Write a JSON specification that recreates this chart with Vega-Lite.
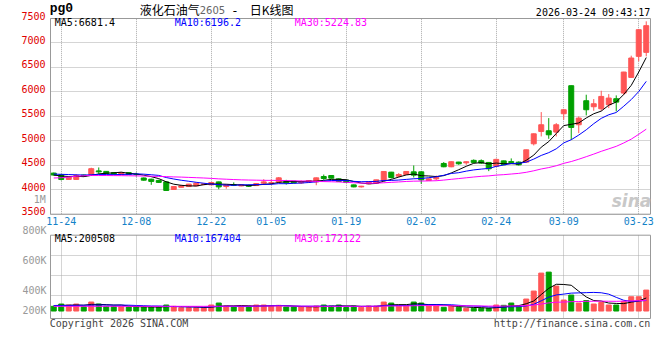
{
"$schema": "https://vega.github.io/schema/vega-lite/v6.json",
"width": 600, "height": 300,
"autosize": "none",
"padding": {"left": 50, "top": 18, "right": 10, "bottom": 42},
"background": "#ffffff",
"config": {"view": {"stroke": null}, "text": {"font": "DejaVu Sans Mono", "fontSize": 10}, "axis": {"labelFont": "DejaVu Sans Mono", "labelFontSize": 10}},
"datasets": {"k": [
{"d":"11-21","o":4330,"h":4340,"l":4280,"c":4290,"v":117000,"m5":4290,"m10":4310,"m30":4230,"vm5":125000,"vm10":125000,"vm30":117000},
{"d":"11-24","o":4295,"h":4305,"l":4180,"c":4200,"v":140000,"m5":4270,"m10":4305,"m30":4235,"vm5":127000,"vm10":125000,"vm30":117000},
{"d":"11-25","o":4200,"h":4260,"l":4195,"c":4250,"v":130000,"m5":4260,"m10":4300,"m30":4250,"vm5":128000,"vm10":126000,"vm30":117000},
{"d":"11-26","o":4200,"h":4310,"l":4195,"c":4280,"v":140000,"m5":4264,"m10":4295,"m30":4265,"vm5":130000,"vm10":127000,"vm30":117000},
{"d":"11-27","o":4290,"h":4300,"l":4255,"c":4265,"v":113000,"m5":4257,"m10":4290,"m30":4275,"vm5":128000,"vm10":128000,"vm30":117000},
{"d":"11-28","o":4300,"h":4440,"l":4295,"c":4420,"v":160000,"m5":4283,"m10":4295,"m30":4280,"vm5":136600,"vm10":129000,"vm30":117000},
{"d":"12-01","o":4375,"h":4445,"l":4315,"c":4355,"v":140000,"m5":4314,"m10":4300,"m30":4280,"vm5":136600,"vm10":130000,"vm30":117000},
{"d":"12-02","o":4365,"h":4370,"l":4310,"c":4320,"v":117000,"m5":4328,"m10":4300,"m30":4280,"vm5":134000,"vm10":130000,"vm30":117000},
{"d":"12-03","o":4340,"h":4350,"l":4300,"c":4310,"v":117000,"m5":4334,"m10":4298,"m30":4278,"vm5":129400,"vm10":129000,"vm30":117000},
{"d":"12-04","o":4300,"h":4345,"l":4295,"c":4340,"v":117000,"m5":4349,"m10":4303,"m30":4277,"vm5":130200,"vm10":129000,"vm30":117000},
{"d":"12-05","o":4340,"h":4345,"l":4295,"c":4300,"v":110000,"m5":4325,"m10":4304,"m30":4275,"vm5":120200,"vm10":128400,"vm30":117000},
{"d":"12-08","o":4305,"h":4340,"l":4260,"c":4300,"v":110000,"m5":4314,"m10":4314,"m30":4273,"vm5":114200,"vm10":125400,"vm30":117000},
{"d":"12-09","o":4230,"h":4240,"l":4175,"c":4185,"v":110000,"m5":4287,"m10":4308,"m30":4270,"vm5":112800,"vm10":123400,"vm30":117000},
{"d":"12-10","o":4205,"h":4215,"l":4090,"c":4160,"v":110000,"m5":4257,"m10":4296,"m30":4265,"vm5":111400,"vm10":120400,"vm30":117000},
{"d":"12-11","o":4180,"h":4195,"l":4130,"c":4140,"v":110000,"m5":4217,"m10":4283,"m30":4262,"vm5":110000,"vm10":120100,"vm30":117000},
{"d":"12-12","o":4150,"h":4160,"l":3970,"c":3975,"v":130000,"m5":4152,"m10":4239,"m30":4258,"vm5":114000,"vm10":117100,"vm30":117000},
{"d":"12-15","o":3995,"h":4060,"l":3990,"c":4055,"v":117000,"m5":4103,"m10":4209,"m30":4252,"vm5":115400,"vm10":114800,"vm30":117000},
{"d":"12-16","o":4040,"h":4090,"l":4035,"c":4070,"v":103000,"m5":4080,"m10":4184,"m30":4248,"vm5":114000,"vm10":113400,"vm30":117000},
{"d":"12-17","o":4055,"h":4110,"l":4050,"c":4105,"v":103000,"m5":4069,"m10":4163,"m30":4242,"vm5":112600,"vm10":112000,"vm30":117000},
{"d":"12-18","o":4070,"h":4130,"l":4065,"c":4125,"v":103000,"m5":4066,"m10":4142,"m30":4236,"vm5":111200,"vm10":110600,"vm30":117000},
{"d":"12-19","o":4095,"h":4120,"l":4085,"c":4110,"v":103000,"m5":4093,"m10":4123,"m30":4230,"vm5":105800,"vm10":109900,"vm30":117000},
{"d":"12-22","o":4090,"h":4145,"l":4085,"c":4137,"v":130000,"m5":4109,"m10":4106,"m30":4222,"vm5":108400,"vm10":111900,"vm30":118000},
{"d":"12-23","o":4150,"h":4155,"l":4000,"c":4048,"v":150000,"m5":4105,"m10":4093,"m30":4212,"vm5":117800,"vm10":115900,"vm30":118000},
{"d":"12-24","o":4055,"h":4095,"l":4010,"c":4089,"v":120000,"m5":4102,"m10":4085,"m30":4205,"vm5":121200,"vm10":116900,"vm30":118000},
{"d":"12-25","o":4095,"h":4140,"l":4065,"c":4080,"v":110000,"m5":4093,"m10":4079,"m30":4198,"vm5":122600,"vm10":116900,"vm30":119000},
{"d":"12-26","o":4068,"h":4095,"l":4060,"c":4089,"v":117000,"m5":4089,"m10":4091,"m30":4192,"vm5":125400,"vm10":115600,"vm30":119000},
{"d":"12-29","o":4082,"h":4100,"l":4050,"c":4060,"v":117000,"m5":4073,"m10":4091,"m30":4188,"vm5":122800,"vm10":115600,"vm30":119000},
{"d":"12-30","o":4075,"h":4120,"l":4070,"c":4116,"v":130000,"m5":4087,"m10":4096,"m30":4185,"vm5":118800,"vm10":118300,"vm30":119000},
{"d":"12-31","o":4123,"h":4205,"l":4089,"c":4150,"v":130000,"m5":4099,"m10":4100,"m30":4182,"vm5":120800,"vm10":121000,"vm30":120000},
{"d":"01-05","o":4130,"h":4200,"l":4090,"c":4135,"v":120000,"m5":4110,"m10":4101,"m30":4181,"vm5":122800,"vm10":122700,"vm30":120000},
{"d":"01-06","o":4150,"h":4250,"l":4145,"c":4233,"v":127000,"m5":4139,"m10":4114,"m30":4180,"vm5":124800,"vm10":125100,"vm30":121100},
{"d":"01-07","o":4158,"h":4192,"l":4096,"c":4130,"v":110000,"m5":4153,"m10":4113,"m30":4178,"vm5":123400,"vm10":123100,"vm30":120100},
{"d":"01-08","o":4165,"h":4170,"l":4125,"c":4130,"v":110000,"m5":4156,"m10":4121,"m30":4174,"vm5":119400,"vm10":119100,"vm30":119500},
{"d":"01-09","o":4130,"h":4180,"l":4110,"c":4150,"v":110000,"m5":4156,"m10":4127,"m30":4169,"vm5":115400,"vm10":118100,"vm30":118500},
{"d":"01-12","o":4150,"h":4185,"l":4140,"c":4178,"v":110000,"m5":4164,"m10":4137,"m30":4167,"vm5":113400,"vm10":118100,"vm30":118400},
{"d":"01-13","o":4150,"h":4240,"l":4082,"c":4233,"v":120000,"m5":4164,"m10":4152,"m30":4160,"vm5":112000,"vm10":118400,"vm30":117000},
{"d":"01-14","o":4260,"h":4300,"l":4192,"c":4219,"v":130000,"m5":4182,"m10":4167,"m30":4156,"vm5":116000,"vm10":119700,"vm30":116700},
{"d":"01-15","o":4281,"h":4290,"l":4220,"c":4226,"v":120000,"m5":4201,"m10":4178,"m30":4153,"vm5":118000,"vm10":118700,"vm30":116800},
{"d":"01-16","o":4212,"h":4220,"l":4150,"c":4158,"v":130000,"m5":4203,"m10":4179,"m30":4148,"vm5":122000,"vm10":118700,"vm30":117200},
{"d":"01-19","o":4185,"h":4195,"l":4130,"c":4137,"v":105000,"m5":4195,"m10":4179,"m30":4141,"vm5":121000,"vm10":117200,"vm30":116800},
{"d":"01-20","o":4089,"h":4095,"l":4040,"c":4048,"v":120000,"m5":4158,"m10":4161,"m30":4132,"vm5":121000,"vm10":116500,"vm30":117200},
{"d":"01-21","o":4048,"h":4070,"l":4035,"c":4062,"v":107000,"m5":4126,"m10":4154,"m30":4124,"vm5":116400,"vm10":116200,"vm30":117100},
{"d":"01-22","o":4110,"h":4155,"l":4105,"c":4150,"v":120000,"m5":4111,"m10":4156,"m30":4123,"vm5":116400,"vm10":117200,"vm30":117400},
{"d":"01-23","o":4123,"h":4195,"l":4120,"c":4192,"v":120000,"m5":4118,"m10":4160,"m30":4124,"vm5":114400,"vm10":118200,"vm30":117700},
{"d":"01-26","o":4178,"h":4370,"l":4175,"c":4363,"v":160000,"m5":4163,"m10":4179,"m30":4132,"vm5":125400,"vm10":123200,"vm30":119400},
{"d":"01-27","o":4349,"h":4355,"l":4220,"c":4240,"v":150000,"m5":4201,"m10":4180,"m30":4141,"vm5":131400,"vm10":126200,"vm30":120100},
{"d":"01-28","o":4267,"h":4330,"l":4247,"c":4301,"v":120000,"m5":4249,"m10":4188,"m30":4149,"vm5":134000,"vm10":125200,"vm30":120200},
{"d":"01-29","o":4301,"h":4370,"l":4295,"c":4363,"v":120000,"m5":4292,"m10":4201,"m30":4159,"vm5":134000,"vm10":125200,"vm30":120700},
{"d":"01-30","o":4356,"h":4486,"l":4240,"c":4288,"v":160000,"m5":4311,"m10":4214,"m30":4165,"vm5":142000,"vm10":128200,"vm30":122600},
{"d":"02-02","o":4356,"h":4365,"l":4110,"c":4192,"v":150000,"m5":4277,"m10":4220,"m30":4167,"vm5":140000,"vm10":132700,"vm30":124200},
{"d":"02-03","o":4178,"h":4220,"l":4170,"c":4212,"v":120000,"m5":4271,"m10":4236,"m30":4170,"vm5":134000,"vm10":132700,"vm30":124800},
{"d":"02-04","o":4212,"h":4280,"l":4178,"c":4240,"v":120000,"m5":4259,"m10":4254,"m30":4174,"vm5":134000,"vm10":134000,"vm30":124400},
{"d":"02-05","o":4527,"h":4555,"l":4450,"c":4459,"v":107000,"m5":4278,"m10":4285,"m30":4187,"vm5":131400,"vm10":132700,"vm30":123000},
{"d":"02-06","o":4459,"h":4570,"l":4450,"c":4562,"v":120000,"m5":4333,"m10":4322,"m30":4203,"vm5":123400,"vm10":132700,"vm30":123000},
{"d":"02-09","o":4555,"h":4560,"l":4500,"c":4520,"v":107000,"m5":4399,"m10":4338,"m30":4218,"vm5":114800,"vm10":127400,"vm30":122900},
{"d":"02-10","o":4540,"h":4570,"l":4500,"c":4562,"v":97000,"m5":4469,"m10":4370,"m30":4234,"vm5":110200,"vm10":122100,"vm30":122200},
{"d":"02-11","o":4590,"h":4610,"l":4540,"c":4548,"v":97000,"m5":4530,"m10":4395,"m30":4250,"vm5":105600,"vm10":119800,"vm30":121600},
{"d":"02-12","o":4583,"h":4610,"l":4515,"c":4535,"v":97000,"m5":4545,"m10":4412,"m30":4264,"vm5":103600,"vm10":117500,"vm30":120500},
{"d":"02-13","o":4548,"h":4555,"l":4370,"c":4418,"v":97000,"m5":4517,"m10":4425,"m30":4273,"vm5":99000,"vm10":111200,"vm30":119400},
{"d":"02-24","o":4470,"h":4625,"l":4460,"c":4610,"v":130000,"m5":4535,"m10":4467,"m30":4289,"vm5":103600,"vm10":109200,"vm30":119700},
{"d":"02-25","o":4580,"h":4585,"l":4495,"c":4500,"v":127000,"m5":4522,"m10":4495,"m30":4298,"vm5":109600,"vm10":109900,"vm30":119700},
{"d":"02-26","o":4565,"h":4630,"l":4530,"c":4545,"v":150000,"m5":4522,"m10":4526,"m30":4311,"vm5":120200,"vm10":112900,"vm30":121000},
{"d":"02-27","o":4554,"h":4570,"l":4485,"c":4499,"v":117000,"m5":4514,"m10":4530,"m30":4324,"vm5":124200,"vm10":113900,"vm30":121300},
{"d":"03-02","o":4554,"h":4810,"l":4540,"c":4806,"v":190000,"m5":4592,"m10":4554,"m30":4346,"vm5":142800,"vm10":120900,"vm30":123900},
{"d":"03-03","o":4929,"h":5140,"l":4895,"c":5133,"v":270000,"m5":4697,"m10":4616,"m30":4377,"vm5":170800,"vm10":137200,"vm30":129300},
{"d":"03-04","o":5181,"h":5577,"l":5079,"c":5318,"v":450000,"m5":4860,"m10":4691,"m30":4414,"vm5":235400,"vm10":172500,"vm30":140300},
{"d":"03-05","o":5195,"h":5454,"l":5031,"c":5113,"v":460000,"m5":4974,"m10":4748,"m30":4443,"vm5":297400,"vm10":208800,"vm30":151300},
{"d":"03-06","o":5168,"h":5352,"l":5079,"c":5318,"v":320000,"m5":5138,"m10":4826,"m30":4480,"vm5":338000,"vm10":231100,"vm30":157900},
{"d":"03-09","o":5543,"h":5630,"l":5420,"c":5625,"v":180000,"m5":5301,"m10":4947,"m30":4529,"vm5":336000,"vm10":239400,"vm30":159600},
{"d":"03-10","o":6116,"h":6120,"l":5011,"c":5263,"v":230000,"m5":5327,"m10":5012,"m30":4566,"vm5":328000,"vm10":249400,"vm30":163800},
{"d":"03-11","o":5318,"h":5488,"l":5147,"c":5454,"v":150000,"m5":5355,"m10":5107,"m30":4613,"vm5":268000,"vm10":251700,"vm30":164800},
{"d":"03-12","o":5809,"h":5932,"l":5509,"c":5625,"v":175000,"m5":5457,"m10":5215,"m30":4665,"vm5":211000,"vm10":254200,"vm30":167000},
{"d":"03-13","o":5686,"h":5843,"l":5604,"c":5747,"v":140000,"m5":5543,"m10":5340,"m30":4718,"vm5":175000,"vm10":256500,"vm30":167700},
{"d":"03-16","o":5645,"h":6013,"l":5604,"c":5897,"v":155000,"m5":5597,"m10":5449,"m30":4775,"vm5":170000,"vm10":253000,"vm30":168900},
{"d":"03-17","o":5727,"h":5945,"l":5659,"c":5863,"v":130000,"m5":5717,"m10":5522,"m30":4825,"vm5":150000,"vm10":239000,"vm30":167900},
{"d":"03-18","o":5850,"h":5918,"l":5591,"c":5781,"v":130000,"m5":5783,"m10":5569,"m30":4877,"vm5":146000,"vm10":207000,"vm30":167200},
{"d":"03-19","o":5966,"h":6400,"l":5925,"c":6395,"v":167000,"m5":5937,"m10":5697,"m30":4946,"vm5":144400,"vm10":177700,"vm30":168800},
{"d":"03-20","o":6286,"h":6730,"l":6280,"c":6682,"v":213000,"m5":6124,"m10":5833,"m30":5024,"vm5":159000,"vm10":167000,"vm30":171900},
{"d":"03-23","o":6716,"h":7265,"l":6614,"c":7261,"v":213000,"m5":6396,"m10":5997,"m30":5123,"vm5":170600,"vm10":170300,"vm30":173600},
{"d":"03-24","o":6798,"h":7432,"l":6716,"c":7343,"v":280000,"m5":6692,"m10":6205,"m30":5228,"vm5":200600,"vm10":175300,"vm30":178000}
]},
"data": {"name": "k"},
"layer": [
{"layer": [
 {"mark": {"type": "rule", "strokeWidth": 1},
  "encoding": {
   "x": {"field": "d", "type": "ordinal",
     "scale": {"domain": ["11-21","11-24","11-25","11-26","11-27","11-28","12-01","12-02","12-03","12-04","12-05","12-08","12-09","12-10","12-11","12-12","12-15","12-16","12-17","12-18","12-19","12-22","12-23","12-24","12-25","12-26","12-29","12-30","12-31","01-05","01-06","01-07","01-08","01-09","01-12","01-13","01-14","01-15","01-16","01-19","01-20","01-21","01-22","01-23","01-26","01-27","01-28","01-29","01-30","02-02","02-03","02-04","02-05","02-06","02-09","02-10","02-11","02-12","02-13","02-24","02-25","02-26","02-27","03-02","03-03","03-04","03-05","03-06","03-09","03-10","03-11","03-12","03-13","03-16","03-17","03-18","03-19","03-20","03-23","03-24"], "paddingInner": 0.3333, "paddingOuter": 0.1667},
     "axis": {"orient": "bottom", "offset": -104.3, "values": ["11-24","12-08","12-22","01-05","01-19","02-02","02-24","03-09","03-23"], "labelColor": "#1382C8", "labelAngle": 0, "labelPadding": 3, "ticks": false, "grid": false, "domainColor": "#999999", "title": null, "labelOverlap": false, "bandPosition": 0.5}},
   "y": {"field": "h", "type": "quantitative", "scale": {"domain": [3500, 7500], "range": [195.7, 0], "zero": false, "nice": false},
     "axis": {"orient": "left", "values": [3500,4000,4500,5000,5500,6000,6500,7000,7500], "format": "d", "labelColor": "#E00000", "labelPadding": 5, "labelOffset": -2, "labelFlush": false, "labelOverlap": false, "ticks": false, "grid": true, "gridColor": "#AAAAAA", "gridDash": [1, 1], "domainColor": "#999999", "title": null}},
   "y2": {"field": "l"},
   "color": {"condition": {"test": "datum.c >= datum.o", "value": "#FF5555"}, "value": "#00A000"}
  }},
 {"mark": {"type": "bar", "strokeWidth": 1},
  "encoding": {
   "x": {"field": "d", "type": "ordinal", "axis": {"orient": "top", "values": ["11-24","12-08","12-22","01-05","01-19","02-02","02-24","03-09","03-23"], "labels": false, "ticks": false, "grid": true, "gridColor": "#AAAAAA", "gridDash": [1, 1], "domainColor": "#999999", "title": null, "bandPosition": 0.5}},
   "y": {"field": "o", "type": "quantitative", "axis": {"orient": "right", "labels": false, "ticks": false, "grid": false, "domainColor": "#999999", "title": null}},
   "y2": {"field": "c"},
   "color": {"condition": {"test": "datum.c >= datum.o", "value": "#FF5555"}, "value": "#00A000"},
   "stroke": {"condition": {"test": "datum.c >= datum.o", "value": "#FF5555"}, "value": "#00A000"}
  }},
 {"mark": {"type": "line", "color": "#000000", "strokeWidth": 1},
  "encoding": {"x": {"field": "d", "type": "ordinal", "axis": null}, "y": {"field": "m5", "type": "quantitative", "axis": null}, "order": {"value": null}}},
 {"mark": {"type": "line", "color": "#0000FF", "strokeWidth": 1},
  "encoding": {"x": {"field": "d", "type": "ordinal", "axis": null}, "y": {"field": "m10", "type": "quantitative", "axis": null}, "order": {"value": null}}},
 {"mark": {"type": "line", "color": "#FF00FF", "strokeWidth": 1},
  "encoding": {"x": {"field": "d", "type": "ordinal", "axis": null}, "y": {"field": "m30", "type": "quantitative", "axis": null}, "order": {"value": null}}},
 {"data": {"values": [{"d": "11-21", "y": 7630, "t": "pg0"}]},
  "mark": {"type": "text", "align": "left", "baseline": "alphabetic", "dx": -4, "font": "Liberation Mono", "fontSize": 13, "fontWeight": "bold", "color": "#000000"},
  "encoding": {"x": {"field": "d", "type": "ordinal", "axis": null}, "y": {"field": "y", "type": "quantitative", "axis": null}, "text": {"field": "t"}}},
 {"data": {"values": [{"d": "12-09", "y": 7652, "t": "液化石油气"}]},
  "mark": {"type": "text", "align": "left", "baseline": "middle", "dx": -4, "font": "Noto Sans CJK SC", "fontSize": 12, "color": "#000000"},
  "encoding": {"x": {"field": "d", "type": "ordinal", "axis": null}, "y": {"field": "y", "type": "quantitative", "axis": null}, "text": {"field": "t"}}},
 {"data": {"values": [{"d": "12-19", "y": 7648, "t": "2605"}]},
  "mark": {"type": "text", "align": "left", "baseline": "middle", "dx": -4, "font": "DejaVu Sans", "fontSize": 10, "color": "#666666"},
  "encoding": {"x": {"field": "d", "type": "ordinal", "axis": null}, "y": {"field": "y", "type": "quantitative", "axis": null}, "text": {"field": "t"}}},
 {"data": {"values": [{"d": "12-25", "y": 7652, "t": "-"}]},
  "mark": {"type": "text", "align": "left", "baseline": "middle", "dx": -1, "font": "DejaVu Sans", "fontSize": 12, "color": "#000000"},
  "encoding": {"x": {"field": "d", "type": "ordinal", "axis": null}, "y": {"field": "y", "type": "quantitative", "axis": null}, "text": {"field": "t"}}},
 {"data": {"values": [{"d": "12-29", "y": 7652, "t": "日K线图"}]},
  "mark": {"type": "text", "align": "left", "baseline": "middle", "dx": 1, "font": "Noto Sans CJK SC", "fontSize": 12, "color": "#000000"},
  "encoding": {"x": {"field": "d", "type": "ordinal", "axis": null}, "y": {"field": "y", "type": "quantitative", "axis": null}, "text": {"field": "t"}}},
 {"data": {"values": [{"d": "03-24", "y": 7610, "t": "2026-03-24 09:43:17"}]},
  "mark": {"type": "text", "align": "right", "baseline": "middle", "dx": 4, "color": "#000000"},
  "encoding": {"x": {"field": "d", "type": "ordinal", "axis": null}, "y": {"field": "y", "type": "quantitative", "axis": null}, "text": {"field": "t"}}},
 {"data": {"values": [{"d": "11-21", "y": 7390, "t": "MA5:6681.4"}]},
  "mark": {"type": "text", "align": "left", "baseline": "middle", "dx": 1, "color": "#000000"},
  "encoding": {"x": {"field": "d", "type": "ordinal", "axis": null}, "y": {"field": "y", "type": "quantitative", "axis": null}, "text": {"field": "t"}}},
 {"data": {"values": [{"d": "12-15", "y": 7390, "t": "MA10:6196.2"}]},
  "mark": {"type": "text", "align": "left", "baseline": "middle", "dx": 1, "color": "#0000FF"},
  "encoding": {"x": {"field": "d", "type": "ordinal", "axis": null}, "y": {"field": "y", "type": "quantitative", "axis": null}, "text": {"field": "t"}}},
 {"data": {"values": [{"d": "01-08", "y": 7390, "t": "MA30:5224.83"}]},
  "mark": {"type": "text", "align": "left", "baseline": "middle", "dx": 1, "color": "#FF00FF"},
  "encoding": {"x": {"field": "d", "type": "ordinal", "axis": null}, "y": {"field": "y", "type": "quantitative", "axis": null}, "text": {"field": "t"}}},
 {"data": {"values": [{"d": "11-21", "y": 3770, "t": "1M"}]},
  "mark": {"type": "text", "align": "right", "baseline": "middle", "dx": -8, "color": "#999999"},
  "encoding": {"x": {"field": "d", "type": "ordinal", "axis": null}, "y": {"field": "y", "type": "quantitative", "axis": null}, "text": {"field": "t"}}},
 {"data": {"values": [{"d": "03-24", "y": 3733, "t": "sina"}]},
  "mark": {"type": "text", "align": "right", "baseline": "middle", "dx": 5, "font": "DejaVu Sans", "fontSize": 17, "fontStyle": "italic", "fontWeight": "bold", "color": "#C8C8C8"},
  "encoding": {"x": {"field": "d", "type": "ordinal", "axis": null}, "y": {"field": "y", "type": "quantitative", "axis": null}, "text": {"field": "t"}}}
]},
{"layer": [
 {"mark": {"type": "bar", "strokeWidth": 1},
  "encoding": {
   "x": {"field": "d", "type": "ordinal", "axis": {"orient": "bottom", "labels": false, "ticks": false, "grid": false, "domainColor": "#999999", "title": null}},
   "y": {"field": "v", "type": "quantitative", "scale": {"domain": [0, 835000], "range": [300, 216.7], "nice": false},
     "axis": {"orient": "left", "values": [200000, 400000, 600000, 800000], "labelExpr": "datum.value / 1000 + 'K'", "labelColor": "#999999", "labelPadding": 4, "labelFlush": false, "labelOverlap": false,
       "labelOffset": {"condition": [{"test": "datum.value == 800000", "value": -7.5}, {"test": "datum.value == 600000", "value": 2.6}], "value": 12.8},
       "ticks": false, "grid": false, "domainColor": "#999999", "title": null}},
   "y2": {"datum": 70000},
   "color": {"condition": {"test": "datum.c >= datum.o", "value": "#FF5555"}, "value": "#00A000"},
   "stroke": {"condition": {"test": "datum.c >= datum.o", "value": "#FF5555"}, "value": "#00A000"}
  }},
 {"mark": {"type": "line", "color": "#000000", "strokeWidth": 1},
  "encoding": {
   "x": {"field": "d", "type": "ordinal", "axis": {"orient": "top", "offset": -216.7, "values": ["11-24","12-08","12-22","01-05","01-19","02-02","02-24","03-09","03-23"], "labels": false, "ticks": false, "grid": true, "gridColor": "#AAAAAA", "gridDash": [1, 1], "domainColor": "#999999", "title": null, "bandPosition": 0.5}},
   "y": {"field": "vm5", "type": "quantitative", "axis": {"orient": "right", "values": [230000, 430000, 630000], "labels": false, "ticks": false, "grid": true, "gridColor": "#AAAAAA", "gridDash": [1, 1], "domainColor": "#999999", "title": null}},
   "order": {"value": null}
  }},
 {"mark": {"type": "line", "color": "#0000FF", "strokeWidth": 1},
  "encoding": {"x": {"field": "d", "type": "ordinal", "axis": null}, "y": {"field": "vm10", "type": "quantitative", "axis": null}, "order": {"value": null}}},
 {"mark": {"type": "line", "color": "#FF00FF", "strokeWidth": 1},
  "encoding": {"x": {"field": "d", "type": "ordinal", "axis": null}, "y": {"field": "vm30", "type": "quantitative", "axis": null}, "order": {"value": null}}},
 {"data": {"values": [{"d": "11-21", "y": 792000, "t": "MA5:200508"}]},
  "mark": {"type": "text", "align": "left", "baseline": "middle", "dx": 1, "color": "#000000"},
  "encoding": {"x": {"field": "d", "type": "ordinal", "axis": null}, "y": {"field": "y", "type": "quantitative", "axis": null}, "text": {"field": "t"}}},
 {"data": {"values": [{"d": "12-15", "y": 792000, "t": "MA10:167404"}]},
  "mark": {"type": "text", "align": "left", "baseline": "middle", "dx": 1, "color": "#0000FF"},
  "encoding": {"x": {"field": "d", "type": "ordinal", "axis": null}, "y": {"field": "y", "type": "quantitative", "axis": null}, "text": {"field": "t"}}},
 {"data": {"values": [{"d": "01-08", "y": 792000, "t": "MA30:172122"}]},
  "mark": {"type": "text", "align": "left", "baseline": "middle", "dx": 1, "color": "#FF00FF"},
  "encoding": {"x": {"field": "d", "type": "ordinal", "axis": null}, "y": {"field": "y", "type": "quantitative", "axis": null}, "text": {"field": "t"}}},
 {"data": {"values": [{"d": "11-21", "y": -58000, "t": "Copyright 2026 SINA.COM"}]},
  "mark": {"type": "text", "align": "left", "baseline": "middle", "dx": -4, "color": "#444444"},
  "encoding": {"x": {"field": "d", "type": "ordinal", "axis": null}, "y": {"field": "y", "type": "quantitative", "axis": null}, "text": {"field": "t"}}},
 {"data": {"values": [{"d": "03-24", "y": -58000, "t": "http://finance.sina.com.cn"}]},
  "mark": {"type": "text", "align": "right", "baseline": "middle", "dx": 4, "color": "#444444"},
  "encoding": {"x": {"field": "d", "type": "ordinal", "axis": null}, "y": {"field": "y", "type": "quantitative", "axis": null}, "text": {"field": "t"}}}
]}
],
"resolve": {"scale": {"y": "independent"}}
}
